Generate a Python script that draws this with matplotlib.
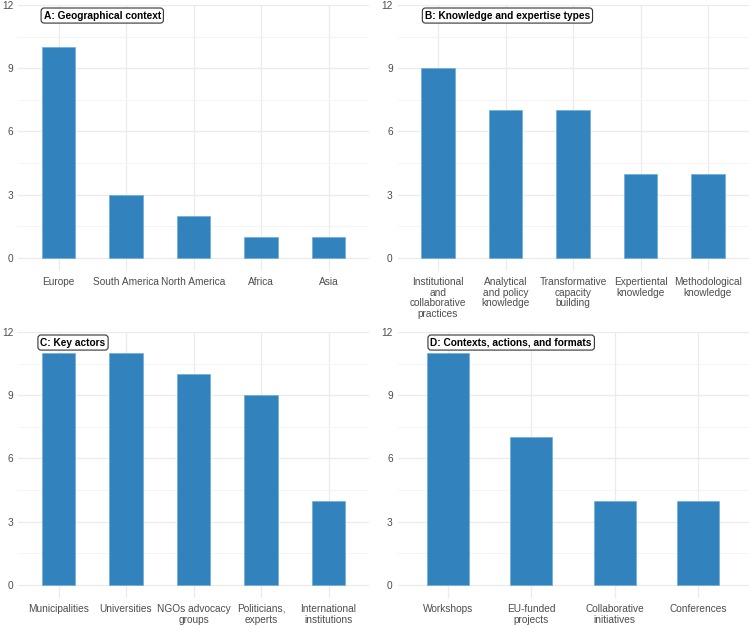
import matplotlib
matplotlib.use("Agg")
import matplotlib.pyplot as plt
import matplotlib.transforms as mtransforms
import numpy as np

plt.rcParams['font.family'] = ['Liberation Sans', 'DejaVu Sans']

# panel data
geo_labels = ["Europe", "South America", "North America", "Africa", "Asia"]
geo_counts = [10, 3, 2, 1, 1]

know_labels = ["Institutional\nand\ncollaborative\npractices", "Analytical\nand policy\nknowledge",
               "Transformative\ncapacity\nbuilding", "Expertiental\nknowledge", "Methodological\nknowledge"]
know_counts = [9, 7, 7, 4, 4]

actor_labels = ["Municipalities", "Universities", "NGOs advocacy\ngroups", "Politicians,\nexperts",
                "International\ninstitutions"]
actor_counts = [11, 11, 10, 9, 4]

format_labels = ["Workshops", "EU-funded\nprojects", "Collaborative\ninitiatives", "Conferences"]
format_counts = [11, 7, 4, 4]

titles = ["A: Geographical context", "B: Knowledge and expertise types",
          "C: Key actors", "D: Contexts, actions, and formats"]

BAR = "#3182bd"
TXT = "#4d4d4d"
FS = 7.3

fig = plt.figure(figsize=(7.5, 6.25), dpi=100)

W, H = 750.0, 625.0
# (left px, top px, right px, bottom px)
px = [(18, 5, 369, 270.6), (397.5, 5, 748.5, 270.6),
      (18, 332, 369, 597.6), (397.5, 332, 748.5, 597.6)]
label_x = [0.073, 0.078, 0.064, 0.094]

panels = [(geo_labels, geo_counts), (know_labels, know_counts),
          (actor_labels, actor_counts), (format_labels, format_counts)]

for i, (labels, counts) in enumerate(panels):
    l, t, r, b = px[i]
    ax = fig.add_axes([l / W, 1 - b / H, (r - l) / W, (b - t) / H])
    x = np.arange(len(labels))
    ax.bar(x, counts, width=0.5, color=BAR, edgecolor="#6baed6", linewidth=0.5, zorder=3)
    ax.set_xlim(-0.6, len(labels) - 0.4)
    ax.set_ylim(-0.6, 12)
    ax.set_yticks([0, 3, 6, 9, 12])
    ax.set_yticks([1.5, 4.5, 7.5, 10.5], minor=True)
    ax.set_xticks(x)
    ax.set_xticklabels(labels, fontsize=FS, color=TXT, linespacing=1.1)
    ax.tick_params(axis='y', labelsize=FS, labelcolor=TXT, length=0, pad=3.5)
    ax.tick_params(axis='y', which='minor', length=0)
    ax.tick_params(axis='x', length=0, pad=4.5)
    ax.grid(True, which='major', color="#ebebeb", linewidth=0.9, zorder=0)
    ax.grid(True, which='minor', axis='y', color="#f3f3f3", linewidth=0.6, zorder=0)
    for s in ax.spines.values():
        s.set_visible(False)
    trans = mtransforms.blended_transform_factory(ax.transAxes, ax.transData)
    ax.text(label_x[i], 11.5, titles[i], transform=trans,
            ha='left', va='center', fontsize=FS, fontweight='bold', color='black', zorder=5,
            bbox=dict(boxstyle="round,pad=0.25,rounding_size=0.3", facecolor="white",
                      edgecolor="#333333", linewidth=0.8))

fig.savefig("out.png", dpi=100, facecolor="white")
